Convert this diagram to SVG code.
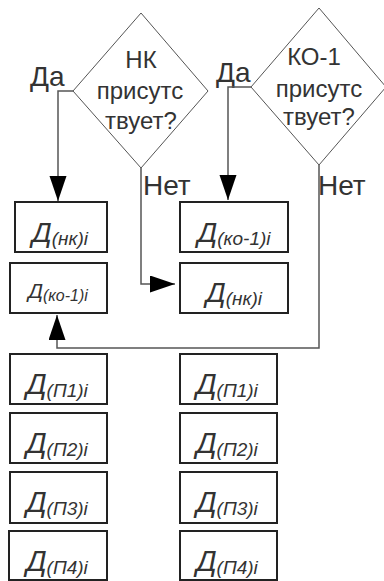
<svg xmlns="http://www.w3.org/2000/svg" width="384" height="581" viewBox="0 0 384 581">
  <style>
    .dia { fill: #fff; stroke: #555; stroke-width: 1; }
    .box { fill: #fff; stroke: #222; stroke-width: 2; }
    .lbl { font-family: "Liberation Sans", Arial, sans-serif; fill: #333; }
    .q { font-size: 24px; text-anchor: middle; }
    .yn { font-size: 28px; }
    .d { font-style: italic; text-anchor: middle; }
    .conn { fill: none; stroke: #555; stroke-width: 1.5; }
  </style>
  <defs>
    <marker id="arrow" markerUnits="userSpaceOnUse" markerWidth="26" markerHeight="18" refX="25" refY="8.5" orient="auto">
      <path d="M0,0 L25,8.5 L0,17 Z" fill="#000"/>
    </marker>
  </defs>

  <!-- decisions -->
  <g id="decision-nk">
    <polygon class="dia" points="141,13 208,91 141,168 73,91"/>
    <text class="lbl q" x="141" y="68">НК</text>
    <text class="lbl q" x="140" y="99">присутс</text>
    <text class="lbl q" x="141" y="129">твует?</text>
  </g>
  <g id="decision-ko">
    <polygon class="dia" points="319,8 386,87 319,165 251,87"/>
    <text class="lbl q" x="314" y="65">КО-1</text>
    <text class="lbl q" x="319" y="97">присутс</text>
    <text class="lbl q" x="319" y="125">твует?</text>
  </g>

  <!-- branch labels -->
  <g id="labels">
    <text class="lbl yn" x="30" y="86">Да</text>
    <text class="lbl yn" x="216" y="82">Да</text>
    <text class="lbl yn" x="143" y="195">Нет</text>
    <text class="lbl yn" x="318" y="195">Нет</text>
  </g>

  <!-- connectors -->
  <g id="connectors">
    <path class="conn" d="M73,91 H58 V201" marker-end="url(#arrow)"/>
    <path class="conn" d="M251,87 H228 V200" marker-end="url(#arrow)"/>
    <path class="conn" d="M141,168 V284 H175" marker-end="url(#arrow)"/>
    <path class="conn" d="M319,165 V348 H57 V315" marker-end="url(#arrow)"/>
  </g>

  <!-- left column -->
  <g id="l-nk">
    <rect class="box" x="15" y="202" width="92" height="50"/>
    <text class="lbl d" x="60" y="242"><tspan font-size="28">Д</tspan><tspan font-size="19" dy="3">(нк)i</tspan></text>
  </g>
  <g id="l-ko">
    <rect class="box" x="10" y="263" width="97" height="50"/>
    <text class="lbl d" x="58" y="298"><tspan font-size="21">Д</tspan><tspan font-size="16" dy="3">(ко-1)i</tspan></text>
  </g>
  <g id="l-p1">
    <rect class="box" x="10" y="354" width="97" height="50"/>
    <text class="lbl d" x="57" y="394"><tspan font-size="29">Д</tspan><tspan font-size="19" dy="3">(П1)i</tspan></text>
  </g>
  <g id="l-p2">
    <rect class="box" x="10" y="413" width="97" height="50"/>
    <text class="lbl d" x="57" y="453"><tspan font-size="29">Д</tspan><tspan font-size="19" dy="3">(П2)i</tspan></text>
  </g>
  <g id="l-p3">
    <rect class="box" x="10" y="472" width="97" height="51"/>
    <text class="lbl d" x="57" y="512"><tspan font-size="29">Д</tspan><tspan font-size="19" dy="3">(П3)i</tspan></text>
  </g>
  <g id="l-p4">
    <rect class="box" x="9" y="531" width="98" height="49"/>
    <text class="lbl d" x="57" y="571"><tspan font-size="29">Д</tspan><tspan font-size="19" dy="3">(П4)i</tspan></text>
  </g>

  <!-- right column -->
  <g id="r-ko">
    <rect class="box" x="180" y="202" width="108" height="50"/>
    <text class="lbl d" x="234" y="242"><tspan font-size="28">Д</tspan><tspan font-size="19" dy="3">(ко-1)i</tspan></text>
  </g>
  <g id="r-nk">
    <rect class="box" x="180" y="263" width="108" height="50"/>
    <text class="lbl d" x="234" y="302"><tspan font-size="28">Д</tspan><tspan font-size="19" dy="3">(нк)i</tspan></text>
  </g>
  <g id="r-p1">
    <rect class="box" x="180" y="354" width="97" height="50"/>
    <text class="lbl d" x="227" y="394"><tspan font-size="29">Д</tspan><tspan font-size="19" dy="3">(П1)i</tspan></text>
  </g>
  <g id="r-p2">
    <rect class="box" x="180" y="413" width="97" height="50"/>
    <text class="lbl d" x="227" y="453"><tspan font-size="29">Д</tspan><tspan font-size="19" dy="3">(П2)i</tspan></text>
  </g>
  <g id="r-p3">
    <rect class="box" x="180" y="472" width="97" height="51"/>
    <text class="lbl d" x="227" y="512"><tspan font-size="29">Д</tspan><tspan font-size="19" dy="3">(П3)i</tspan></text>
  </g>
  <g id="r-p4">
    <rect class="box" x="180" y="531" width="97" height="49"/>
    <text class="lbl d" x="227" y="571"><tspan font-size="29">Д</tspan><tspan font-size="19" dy="3">(П4)i</tspan></text>
  </g>
</svg>
